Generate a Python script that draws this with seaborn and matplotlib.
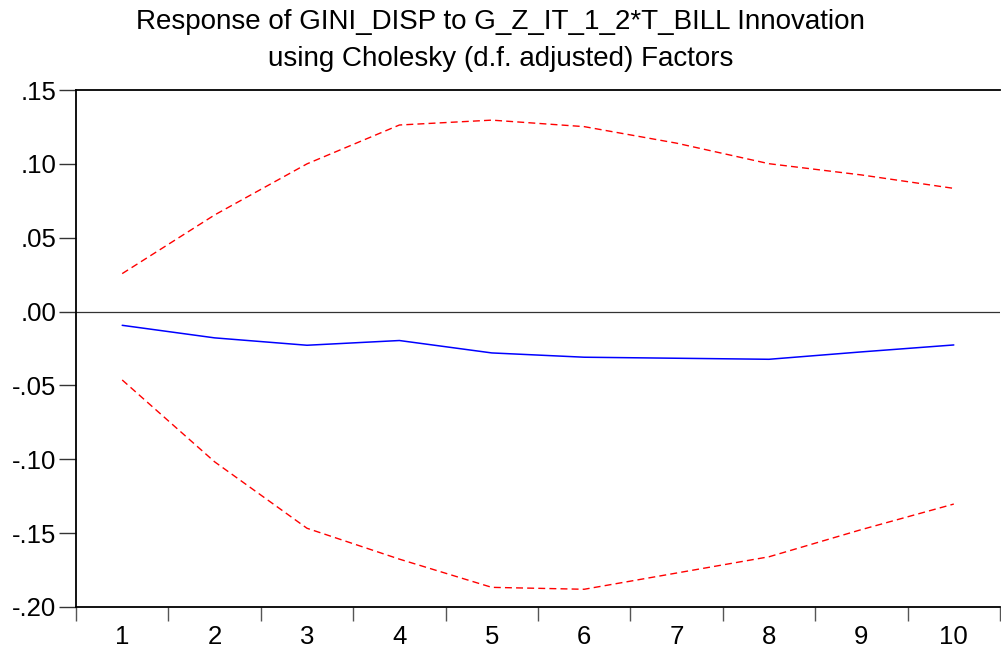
import numpy as np
import pandas as pd
import matplotlib
matplotlib.use("Agg")
import matplotlib.pyplot as plt
import seaborn as sns

periods = [1, 2, 3, 4, 5, 6, 7, 8, 9, 10]
response = [-0.0093, -0.0178, -0.0228, -0.0196, -0.0280, -0.0309, -0.0316, -0.0323, -0.0273, -0.0226]
upper = [0.0257, 0.0654, 0.1000, 0.1263, 0.1296, 0.1252, 0.1140, 0.1001, 0.0925, 0.0834]
lower = [-0.0463, -0.1017, -0.1467, -0.1676, -0.1867, -0.1880, -0.1770, -0.1660, -0.1476, -0.1303]
ytick_vals = [-0.20, -0.15, -0.10, -0.05, 0.00, 0.05, 0.10, 0.15]
ytick_labels = ["-.20", "-.15", "-.10", "-.05", ".00", ".05", ".10", ".15"]
title = "Response of GINI_DISP to G_Z_IT_1_2*T_BILL Innovation\nusing Cholesky (d.f. adjusted) Factors"

sns.set_style("white")
plt.rcParams['font.family'] = ['Liberation Sans', 'DejaVu Sans']
plt.rcParams['text.color'] = 'black'
plt.rcParams['xtick.color'] = 'black'
plt.rcParams['ytick.color'] = 'black'

df = pd.DataFrame({"period": periods, "response": response, "upper": upper, "lower": lower})

fig = plt.figure(figsize=(10.01, 6.51), dpi=100)
ax = fig.add_axes([76/1001, 1-607/651, (1000-76)/1001, (607-90)/651])

sns.lineplot(data=df, x="period", y="upper", ax=ax, color="red", linewidth=1.0, linestyle=(0, (5, 3)))
sns.lineplot(data=df, x="period", y="lower", ax=ax, color="red", linewidth=1.0, linestyle=(0, (5, 3)))
sns.lineplot(data=df, x="period", y="response", ax=ax, color="blue", linewidth=1.1)
ax.axhline(0, color="#333333", linewidth=0.9)

ax.set_xlim(0.5, 10.5)
ax.set_ylim(-0.20, 0.15)
ax.set_yticks(ytick_vals)
ax.set_yticklabels(ytick_labels, fontsize=18.5)
ax.set_xticks(periods)
ax.set_xticklabels([str(p) for p in periods], fontsize=18.5)
ax.set_xticks(np.arange(0.5, 10.6, 1.0), minor=True)
ax.tick_params(axis="x", which="major", length=0, pad=13, labelcolor="black")
ax.tick_params(axis="x", which="minor", length=10, width=1, color="#555555", direction="out", bottom=True)
ax.tick_params(axis="y", which="major", length=12, width=1, color="#333333", direction="out", left=True, pad=2, labelcolor="black")
ax.set_xlabel("")
ax.set_ylabel("")
for side in ["left", "bottom", "top"]:
    ax.spines[side].set_visible(True)
    ax.spines[side].set_color("black")
    ax.spines[side].set_linewidth(1.3)
ax.spines["right"].set_visible(False)

fig.suptitle(title, fontsize=20, y=1 - 9/651, va="top", linespacing=1.55, color="black")

fig.savefig("out.png", dpi=100)
